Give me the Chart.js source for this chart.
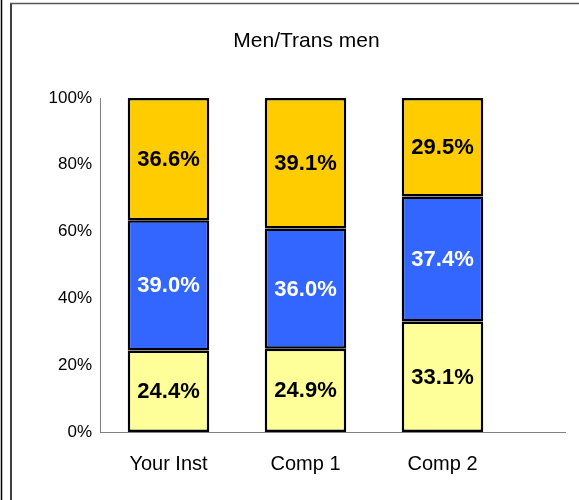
<!DOCTYPE html>
<html>
<head>
<meta charset="utf-8">
<script src="https://cdn.jsdelivr.net/npm/chart.js@4/dist/chart.umd.min.js"></script>
<style>
  body { margin: 0; background: #fff; }
  canvas { display: block; }
</style>
</head>
<body>
<canvas id="canvas" width="579" height="500"></canvas>
<script>
var chartTitle = "Men/Trans men";
var institutions = ["Your Inst", "Comp 1", "Comp 2"];
var bottomShare = [24.4, 24.9, 33.1];   // light yellow
var middleShare = [39.0, 36.0, 37.4];   // blue
var topShare = [36.6, 39.1, 29.5];      // orange
var yTicks = [0, 20, 40, 60, 80, 100];

var fontFamily = "'Liberation Sans', Arial, sans-serif";

// white background, outer frame lines, title, baseline extension
var framePlugin = {
    id: 'frame',
    beforeDraw: function (chart) {
        var c = chart.ctx;
        c.save();
        c.fillStyle = '#fff';
        c.fillRect(0, 0, chart.width, chart.height);
        c.strokeStyle = '#000';
        c.lineWidth = 1.5;
        c.beginPath();
        c.moveTo(1.5, 0); c.lineTo(1.5, 500);
        c.moveTo(11, 3); c.lineTo(11, 500);
        c.stroke();
        c.strokeStyle = '#555';
        c.beginPath();
        c.moveTo(10, 3.5); c.lineTo(579, 3.5);
        c.stroke();
        c.fillStyle = '#000';
        c.font = "21px " + fontFamily;
        c.textAlign = 'center';
        c.textBaseline = 'middle';
        c.fillText(chartTitle, 306.5, 41);
        c.restore();
    },
    afterDraw: function (chart) {
        var a = chart.chartArea, c = chart.ctx;
        c.save();
        c.strokeStyle = '#808080';
        c.lineWidth = 1;
        c.beginPath();
        c.moveTo(a.right - 1, a.bottom + 0.5);
        c.lineTo(566, a.bottom + 0.5);
        c.stroke();
        c.restore();
    }
};

// value labels in the middle of each segment
var valuePlugin = {
    id: 'values',
    afterDatasetsDraw: function (chart) {
        var c = chart.ctx;
        c.save();
        c.font = "bold 22px " + fontFamily;
        c.textAlign = 'center';
        c.textBaseline = 'middle';
        chart.data.datasets.forEach(function (ds, i) {
            var meta = chart.getDatasetMeta(i);
            meta.data.forEach(function (bar, j) {
                var p = bar.getProps(['x', 'y', 'base'], true);
                c.fillStyle = ds.labelColor;
                c.fillText(ds.data[j].toFixed(1) + '%', p.x, (p.y + p.base) / 2 + 1);
            });
        });
        c.restore();
    }
};

function segment(values, color, labelColor) {
    return {
        data: values,
        backgroundColor: color,
        borderColor: '#000',
        borderWidth: 2.5,
        borderSkipped: false,
        barPercentage: 0.595,
        categoryPercentage: 1,
        labelColor: labelColor
    };
}

var config = {
    type: 'bar',
    data: {
        labels: institutions,
        datasets: [
            segment(bottomShare, '#FFFF99', '#000'),
            segment(middleShare, '#3366FF', '#fff'),
            segment(topShare, '#FFCC00', '#000')
        ]
    },
    options: {
        responsive: false,
        animation: false,
        layout: { padding: { left: 0, right: 68, top: 98, bottom: 0 } },
        plugins: {
            legend: { display: false },
            tooltip: { enabled: false },
            title: { display: false }
        },
        scales: {
            x: {
                stacked: true,
                grid: { display: false, drawTicks: false },
                border: { display: true, color: '#808080', width: 1 },
                ticks: { color: '#000', padding: 20, font: { family: fontFamily, size: 20 } },
                afterFit: function (s) { s.height = 68; }
            },
            y: {
                stacked: true,
                min: 0,
                max: 100,
                grid: { display: false, drawTicks: false },
                border: { display: true, color: '#808080', width: 1 },
                afterBuildTicks: function (s) {
                    s.ticks = yTicks.map(function (v) { return { value: v }; });
                },
                ticks: {
                    color: '#000',
                    padding: 8,
                    font: { family: fontFamily, size: 17 },
                    callback: function (v) { return v + '%'; }
                },
                afterFit: function (s) { s.width = 100; }
            }
        }
    },
    plugins: [framePlugin, valuePlugin]
};

var ctx = document.getElementById("canvas").getContext("2d");
new Chart(ctx, config);
</script>
</body>
</html>
